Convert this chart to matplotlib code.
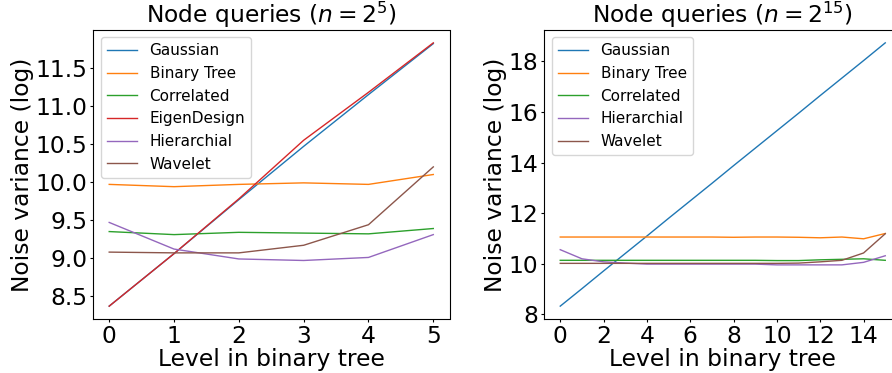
import matplotlib
matplotlib.use('Agg')
import matplotlib.pyplot as plt

# values
levels_small = list(range(0, 6))
small_gaussian = [8.37, 9.06, 9.77, 10.47, 11.15, 11.82]
small_binary = [9.97, 9.94, 9.97, 9.99, 9.97, 10.10]
small_correlated = [9.35, 9.31, 9.34, 9.33, 9.32, 9.39]
small_eigen = [8.37, 9.06, 9.78, 10.55, 11.18, 11.83]
small_hier = [9.47, 9.12, 8.99, 8.97, 9.01, 9.31]
small_wavelet = [9.08, 9.07, 9.07, 9.17, 9.44, 10.20]

levels_large = list(range(0, 16))
large_gaussian = [8.33, 9.02, 9.72, 10.41, 11.10, 11.80, 12.49, 13.18,
                  13.88, 14.57, 15.26, 15.95, 16.65, 17.34, 18.03, 18.73]
large_binary = [11.06, 11.06, 11.06, 11.06, 11.06, 11.06, 11.06, 11.06,
                11.05, 11.06, 11.06, 11.05, 11.03, 11.06, 10.99, 11.20]
large_correlated = [10.14, 10.14, 10.14, 10.14, 10.14, 10.14, 10.14, 10.14,
                    10.14, 10.14, 10.13, 10.13, 10.16, 10.18, 10.20, 10.14]
large_hier = [10.56, 10.20, 10.08, 10.03, 9.99, 9.99, 9.99, 9.99,
              9.99, 9.99, 9.96, 9.96, 9.96, 9.96, 10.06, 10.32]
large_wavelet = [10.02, 10.02, 10.02, 10.02, 10.02, 10.02, 10.02, 10.02,
                 10.02, 10.02, 10.02, 10.03, 10.08, 10.14, 10.43, 11.19]

FS = 16.8

fig = plt.figure(figsize=(8.92, 3.73), dpi=100)
W, H = 892.0, 373.0
ax1 = fig.add_axes([93 / W, (H - 319.3) / H, 356.5 / W, 289.6 / H])
ax2 = fig.add_axes([544 / W, (H - 319.3) / H, 357.5 / W, 289.6 / H])

# left panel, n = 2^5
ax1.plot(levels_small, small_gaussian, label='Gaussian', linewidth=1)
ax1.plot(levels_small, small_binary, label='Binary Tree', linewidth=1)
ax1.plot(levels_small, small_correlated, label='Correlated', linewidth=1)
ax1.plot(levels_small, small_eigen, label='EigenDesign', linewidth=1)
ax1.plot(levels_small, small_hier, label='Hierarchial', linewidth=1)
ax1.plot(levels_small, small_wavelet, label='Wavelet', linewidth=1)
ax1.set_title('Node queries ($n=2^5$)', fontsize=FS, pad=4)
ax1.set_xlabel('Level in binary tree', fontsize=FS, labelpad=0)
ax1.set_ylabel('Noise variance (log)', fontsize=FS, labelpad=1)
ax1.set_xticks(levels_small)
ax1.set_yticks([8.5, 9.0, 9.5, 10.0, 10.5, 11.0, 11.5])
ax1.tick_params(labelsize=FS, length=2.5, pad=1.5)
ax1.legend(loc='upper left', fontsize=11)

# right panel, n = 2^15 (no EigenDesign; keep colours aligned)
ax2.plot(levels_large, large_gaussian, label='Gaussian', color='C0', linewidth=1)
ax2.plot(levels_large, large_binary, label='Binary Tree', color='C1', linewidth=1)
ax2.plot(levels_large, large_correlated, label='Correlated', color='C2', linewidth=1)
ax2.plot(levels_large, large_hier, label='Hierarchial', color='C4', linewidth=1)
ax2.plot(levels_large, large_wavelet, label='Wavelet', color='C5', linewidth=1)
ax2.set_title('Node queries ($n=2^{15}$)', fontsize=FS, pad=4)
ax2.set_xlabel('Level in binary tree', fontsize=FS, labelpad=0)
ax2.set_ylabel('Noise variance (log)', fontsize=FS, labelpad=1)
ax2.set_xticks(range(0, 16, 2))
ax2.set_yticks(range(8, 20, 2))
ax2.tick_params(labelsize=FS, length=2.5, pad=1.5)
ax2.legend(loc='upper left', fontsize=11)

fig.savefig('out.png', dpi=100)
